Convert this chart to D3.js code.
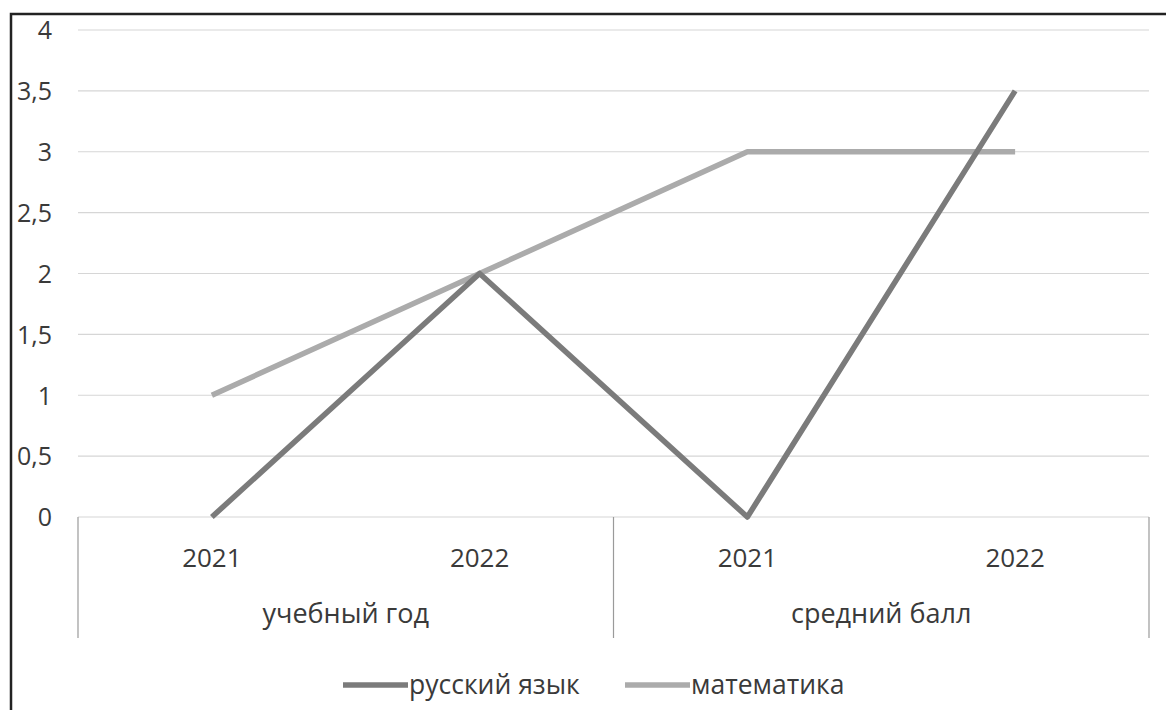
<!DOCTYPE html>
<html><head><meta charset="utf-8">
<script src="https://cdn.jsdelivr.net/npm/d3@7"></script>
<style>body{margin:0;background:#fff}svg{display:block}text{font-family:"Open Sans","Liberation Sans",Arial,sans-serif;fill:#3a3a3a}</style>
</head><body><svg id="c" width="1166" height="710"></svg>
<script>
const years = ["2021","2022","2021","2022"];
const groups = ["учебный год","средний балл"];
const seriesNames = ["русский язык","математика"];
const russian = [0, 2, 0, 3.5];
const math = [1, 2, 3, 3];
const yTicks = [0,0.5,1,1.5,2,2.5,3,3.5,4];
const colors = ["#7b7b7b","#ababab"];

const svg = d3.select("#c");
const FF = "Open Sans, Liberation Sans, Arial, sans-serif";
// frame
svg.append("path").attr("d","M11,710 L11,14 L1166,14").attr("fill","none").attr("stroke","#222").attr("stroke-width",2.5);

const L=78, R=1149, T=30, B=517;
const x = d3.scaleBand().domain(d3.range(4)).range([L,R]);
const y = d3.scaleLinear().domain([0,4]).range([B,T]);
const fmt = v => String(v).replace(".",",");

// gridlines
svg.append("g").selectAll("line").data(yTicks).join("line")
  .attr("x1",L).attr("x2",R).attr("y1",d=>y(d)).attr("y2",d=>y(d))
  .attr("stroke","#d6d6d6").attr("stroke-width",1.2);

// y axis labels
const yAxis = d3.axisLeft(y).tickValues(yTicks).tickFormat(fmt).tickSize(0).tickPadding(0);
const ga = svg.append("g").attr("transform",`translate(52,0)`).call(yAxis);
ga.select(".domain").remove();
ga.selectAll("text").attr("font-size",25).attr("font-family",FF).attr("fill","#3a3a3a").attr("dy","0.35em");

// category axis separators
const seps = [L, x(2), R];
svg.append("g").selectAll("line").data(seps).join("line")
  .attr("x1",d=>d).attr("x2",d=>d).attr("y1",B).attr("y2",638)
  .attr("stroke","#9a9a9a").attr("stroke-width",1.2);

svg.append("g").selectAll("text").data(years).join("text")
  .attr("x",(d,i)=>x(i)+x.bandwidth()/2).attr("y",567)
  .attr("text-anchor","middle").attr("font-size",26).text(d=>d);

svg.append("g").selectAll("text").data(groups).join("text")
  .attr("x",(d,i)=>(x(i*2)+x(i*2+1)+x.bandwidth())/2).attr("y",623)
  .attr("text-anchor","middle").attr("font-size",27).text(d=>d);

// lines
const line = d3.line().x((d,i)=>x(i)+x.bandwidth()/2).y(d=>y(d));
const paths = [russian, math].map((s,k)=>
  svg.append("path").datum(s).attr("d",line).attr("fill","none")
    .attr("stroke",colors[k]).attr("stroke-width",5.5).attr("stroke-linejoin","round"));
paths[0].raise();

// legend
const leg = [{x:343,tx:409},{x:625,tx:691}];
seriesNames.forEach((n,k)=>{
  svg.append("line").attr("x1",leg[k].x).attr("x2",leg[k].x+65).attr("y1",685).attr("y2",685)
    .attr("stroke",colors[k]).attr("stroke-width",5.5);
  svg.append("text").attr("x",leg[k].tx).attr("y",694).attr("font-size",26.5).text(n);
});
</script></body></html>
